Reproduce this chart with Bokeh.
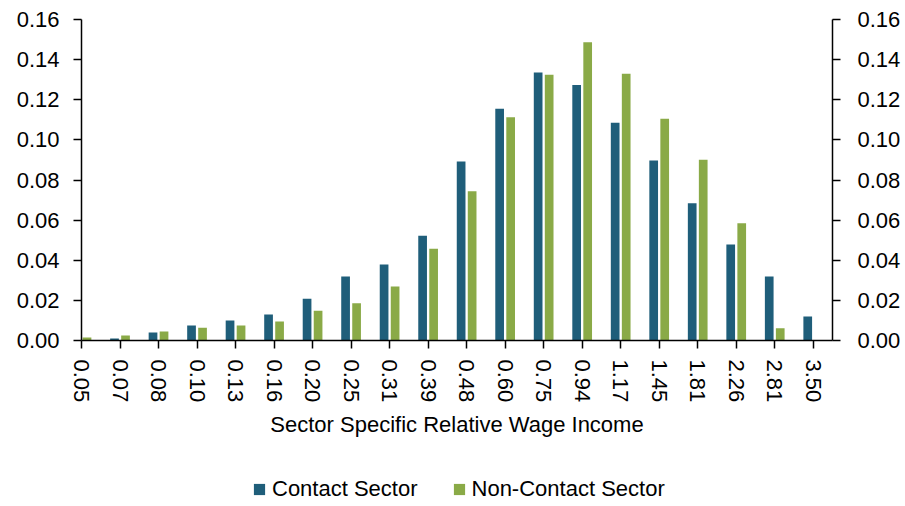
from bokeh.plotting import figure
from bokeh.layouts import column
from bokeh.models import (LinearAxis, FixedTicker, NumeralTickFormatter, Range1d,
                          Legend, LegendItem, ColumnDataSource)
from bokeh.transform import dodge
from bokeh.embed import file_html
from bokeh.resources import INLINE

# ---- data ----
wage_labels = ["0.05", "0.07", "0.08", "0.10", "0.13", "0.16", "0.20", "0.25", "0.31", "0.39",
               "0.48", "0.60", "0.75", "0.94", "1.17", "1.45", "1.81", "2.26", "2.81", "3.50"]
contact_sector = [0.0, 0.001, 0.004, 0.0075, 0.010, 0.013, 0.0208, 0.0319, 0.0379, 0.0522,
                  0.0892, 0.1155, 0.1336, 0.1273, 0.1085, 0.0897, 0.0684, 0.0479, 0.0319, 0.0120]
noncontact_sector = [0.0015, 0.0025, 0.0045, 0.0063, 0.0075, 0.0095, 0.0148, 0.0186, 0.0269, 0.0457,
                     0.0744, 0.1113, 0.1324, 0.1486, 0.1330, 0.1105, 0.0901, 0.0585, 0.0061, 0.0]
y_ticks = [0.0, 0.02, 0.04, 0.06, 0.08, 0.10, 0.12, 0.14, 0.16]
series_names = ["Contact Sector", "Non-Contact Sector"]

BLUE = "#1F5E7A"
GREEN = "#8AAA47"
FONT = "Liberation Sans"
FS = "22px"

xs = list(range(len(wage_labels)))
src = ColumnDataSource(dict(x=xs, contact=contact_sector, noncontact=noncontact_sector))

p = figure(frame_width=751, frame_height=321, x_range=Range1d(0, 19.5), y_range=Range1d(0, 0.16),
           output_backend="svg", toolbar_location=None,
           min_border_left=81, min_border_right=65, min_border_top=19, min_border_bottom=100)
p.outline_line_color = None
p.xgrid.visible = False
p.ygrid.visible = False
p.background_fill_color = "white"

r1 = p.vbar(x=dodge("x", -0.143), top="contact", width=0.226, source=src,
            fill_color=BLUE, line_color=None)
r2 = p.vbar(x=dodge("x", 0.143), top="noncontact", width=0.226, source=src,
            fill_color=GREEN, line_color=None)

def style_axis(ax):
    ax.axis_line_color = "black"
    ax.axis_line_width = 1.5
    ax.major_tick_line_color = "black"
    ax.major_tick_line_width = 1.5
    ax.major_tick_out = 8
    ax.major_tick_in = 0
    ax.minor_tick_line_color = None
    ax.major_label_text_font = FONT
    ax.major_label_text_font_size = FS
    ax.major_label_text_color = "black"

# x axis
xa = p.xaxis[0]
style_axis(xa)
xa.ticker = FixedTicker(ticks=xs)
xa.major_label_overrides = {i: lab for i, lab in zip(xs, wage_labels)}
xa.major_label_orientation = "vertical"
xa.major_label_standoff = 11
xa.axis_label = "Sector Specific Relative Wage Income"
xa.axis_label_text_font = FONT
xa.axis_label_text_font_size = FS
xa.axis_label_text_font_style = "normal"
xa.axis_label_text_color = "black"
xa.axis_label_standoff = 7

# left y axis
ya = p.yaxis[0]
style_axis(ya)
ya.ticker = FixedTicker(ticks=y_ticks)
ya.formatter = NumeralTickFormatter(format="0.00")
ya.major_label_standoff = 14

# right y axis
yr = LinearAxis(ticker=FixedTicker(ticks=y_ticks), formatter=NumeralTickFormatter(format="0.00"))
style_axis(yr)
yr.major_label_standoff = 17
p.add_layout(yr, "right")

# ---- legend strip (separate small figure below the chart) ----
# the same bars are drawn here but outside the visible y range, so only the legend shows
lg = figure(width=897, height=66, x_range=Range1d(0, 19.5), y_range=Range1d(1, 2),
            output_backend="svg", toolbar_location=None, x_axis_type=None, y_axis_type=None,
            min_border=0)
lg.outline_line_color = None
lg.xgrid.visible = False
lg.ygrid.visible = False
l1 = lg.vbar(x=dodge("x", -0.143), top="contact", width=0.226, source=src,
             fill_color=BLUE, line_color=None)
l2 = lg.vbar(x=dodge("x", 0.143), top="noncontact", width=0.226, source=src,
             fill_color=GREEN, line_color=None)

legend = Legend(items=[LegendItem(label=series_names[0], renderers=[l1]),
                       LegendItem(label=series_names[1], renderers=[l2])],
                orientation="horizontal", location=(171, 4))
legend.label_text_font = FONT
legend.label_text_font_size = FS
legend.label_text_color = "black"
legend.glyph_width = 14
legend.glyph_height = 14
legend.label_standoff = 6
legend.spacing = 34
legend.border_line_color = None
legend.background_fill_alpha = 0
legend.margin = 0
legend.padding = 0
lg.add_layout(legend, "center")

layout = column(p, lg, spacing=0)
open("out.html", "w").write(file_html(layout, INLINE))
